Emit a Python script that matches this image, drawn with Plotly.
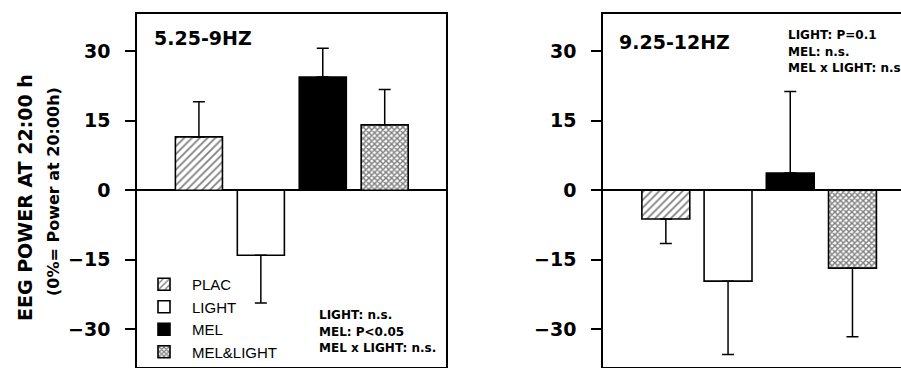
import plotly.graph_objects as go

W, H = 901, 368

conditions = ["PLAC", "LIGHT", "MEL", "MEL&LIGHT"]
theta_mean = [11.5, -14.0, 24.4, 14.1]      # 5.25-9 Hz
theta_sem = [7.6, 10.3, 6.2, 7.6]
alpha_mean = [-6.2, -19.6, 3.7, -16.8]      # 9.25-12 Hz
alpha_sem = [5.3, 15.8, 17.6, 14.8]
y_ticks = [-30, -15, 0, 15, 30]
panel_titles = ["5.25-9HZ", "9.25-12HZ"]
stats_left = ["LIGHT: n.s.", "MEL: P&lt;0.05", "MEL x LIGHT: n.s."]
stats_right = ["LIGHT: P=0.1", "MEL: n.s.", "MEL x LIGHT: n.s."]
y_title = "EEG POWER AT 22:00 h"
y_subtitle = "(0%= Power at 20:00h)"

styles = {
    "PLAC": dict(color="white", pattern=dict(shape="/", size=5.5, solidity=0.32, fgcolor="black", bgcolor="white")),
    "LIGHT": dict(color="white"),
    "MEL": dict(color="black"),
    "MEL&LIGHT": dict(color="white", pattern=dict(shape="x", size=4, solidity=0.6, fgcolor="black", bgcolor="white")),
}

BOLD = "DejaVu Sans"

fig = go.Figure()

def add_panel(means, sems, xa, ya, show_legend, width):
    for i, cond in enumerate(conditions):
        v, e = means[i], sems[i]
        up = e if v >= 0 else 0
        dn = e if v < 0 else 0
        st = styles[cond]
        marker = dict(color=st["color"], line=dict(color="black", width=1.6))
        if "pattern" in st:
            marker["pattern"] = st["pattern"]
        fig.add_trace(go.Bar(
            x=[cond], y=[v], width=width, name=cond, marker=marker,
            xaxis=xa, yaxis=ya, showlegend=show_legend,
            error_y=dict(type="data", symmetric=False, array=[up], arrayminus=[dn],
                         color="black", thickness=1.5, width=6),
        ))

add_panel(theta_mean, theta_sem, "x", "y", True, 0.76)
add_panel(alpha_mean, alpha_sem, "x2", "y2", False, 0.77)

def px_x(p):
    return p / W

def px_y(p):
    return 1 - p / H

yax = dict(range=[-38, 38], tickvals=y_ticks, ticks="outside", ticklen=10, tickwidth=1.5,
           tickcolor="black", showline=True, linewidth=1.5, linecolor="black",
           zeroline=True, zerolinewidth=1.5, zerolinecolor="black", showgrid=False,
           ticklabelstandoff=11,
           tickfont=dict(family=BOLD, size=19, color="black", weight="bold"))
xax = dict(showticklabels=False, ticks="", showline=True, linewidth=1.5, linecolor="black",
           mirror=True, showgrid=False, zeroline=False, type="category",
           categoryorder="array", categoryarray=conditions)

fig.update_layout(
    width=W, height=H,
    margin=dict(l=0, r=0, t=0, b=0, autoexpand=False),
    paper_bgcolor="white", plot_bgcolor="white",
    barmode="overlay",
    xaxis=dict(xax, domain=[px_x(137), px_x(446)], range=[-1.0, 3.99]),
    yaxis=dict(yax, domain=[px_y(366.5), px_y(14)], mirror=True, anchor="x"),
    xaxis2=dict(xax, domain=[px_x(603), 1.0], range=[-1.01, 3.78], anchor="y2"),
    yaxis2=dict(yax, domain=[px_y(366.5), px_y(14)], mirror=False, anchor="x2"),
    showlegend=True,
    legend=dict(x=px_x(136), y=px_y(268), xanchor="left", yanchor="top",
                bgcolor="rgba(0,0,0,0)", itemwidth=46,
                font=dict(family="Liberation Sans", size=15, color="black"),
                tracegroupgap=0),
)

ann = []
ann.append(dict(text=panel_titles[0], x=px_x(152), y=px_y(38), xanchor="left", yanchor="middle",
                font=dict(family=BOLD, size=19, color="black", weight="bold")))
ann.append(dict(text=panel_titles[1], x=px_x(617), y=px_y(42), xanchor="left", yanchor="middle",
                font=dict(family=BOLD, size=19, color="black", weight="bold")))
for k, t in enumerate(stats_left):
    ann.append(dict(text=t, x=px_x(317), y=px_y(315 + 16.5 * k), xanchor="left", yanchor="middle",
                    font=dict(family=BOLD, size=12, color="black", weight="bold")))
for k, t in enumerate(stats_right):
    ann.append(dict(text=t, x=px_x(786), y=px_y(35 + 16.5 * k), xanchor="left", yanchor="middle",
                    font=dict(family=BOLD, size=12, color="black", weight="bold")))
ann.append(dict(text=y_title, x=px_x(25), y=px_y(198), xanchor="center", yanchor="middle", textangle=-90,
                font=dict(family=BOLD, size=19, color="black", weight="bold")))
ann.append(dict(text=y_subtitle, x=px_x(53), y=px_y(192), xanchor="center", yanchor="middle", textangle=-90,
                font=dict(family=BOLD, size=16, color="black", weight="bold")))
for a in ann:
    a.update(xref="paper", yref="paper", showarrow=False)
fig.update_layout(annotations=ann)

fig.write_html("out.html", config={"displayModeBar": False},
               post_script="document.body.style.margin='0';document.body.style.overflow='hidden';")
